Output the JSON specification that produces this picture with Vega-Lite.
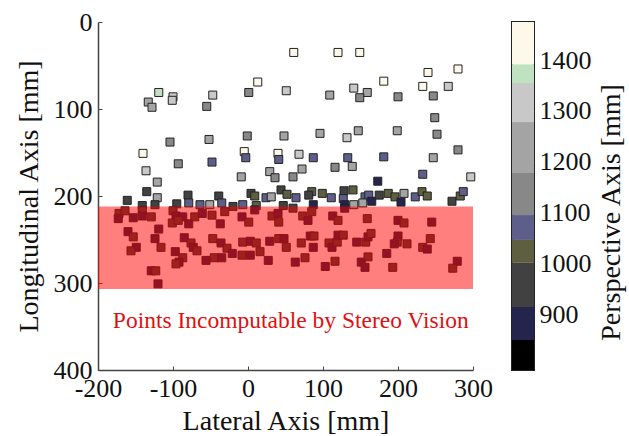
{
  "$schema": "https://vega.github.io/schema/vega-lite/v6.json",
  "autosize": "none",
  "padding": {"left": 98, "top": 22, "right": 531, "bottom": 414},
  "background": "white",
  "datasets": {
    "points": [
      {"x": -119, "y": 81, "z": 1370}, {"x": -100, "y": 86, "z": 1320}, {"x": -101, "y": 90, "z": 1320},
      {"x": -133, "y": 92, "z": 1230}, {"x": -128, "y": 98, "z": 1230}, {"x": -47, "y": 84, "z": 1320},
      {"x": -55, "y": 97, "z": 1140}, {"x": 1, "y": 81, "z": 1140}, {"x": 13, "y": 69, "z": 1440},
      {"x": 51, "y": 79, "z": 1320}, {"x": -104, "y": 138, "z": 1140}, {"x": -52, "y": 135, "z": 1230},
      {"x": -1, "y": 131, "z": 1140}, {"x": 48, "y": 131, "z": 1230}, {"x": -140, "y": 151, "z": 1440},
      {"x": -5, "y": 149, "z": 1440}, {"x": -3, "y": 156, "z": 1070}, {"x": 40, "y": 151, "z": 1440},
      {"x": 41, "y": 158, "z": 1070}, {"x": -93, "y": 163, "z": 1140}, {"x": -48, "y": 161, "z": 1070},
      {"x": -136, "y": 171, "z": 1320}, {"x": -9, "y": 178, "z": 1230}, {"x": 29, "y": 172, "z": 1230},
      {"x": 36, "y": 179, "z": 1140}, {"x": -121, "y": 184, "z": 1230}, {"x": -135, "y": 195, "z": 960},
      {"x": 44, "y": 193, "z": 960}, {"x": 52, "y": 198, "z": 1020}, {"x": -161, "y": 205, "z": 960},
      {"x": -121, "y": 202, "z": 1230}, {"x": -80, "y": 199, "z": 960}, {"x": -39, "y": 200, "z": 960},
      {"x": 4, "y": 197, "z": 960}, {"x": 9, "y": 200, "z": 1020}, {"x": 24, "y": 202, "z": 1070},
      {"x": 31, "y": 201, "z": 1230}, {"x": -79, "y": 208, "z": 1070}, {"x": -95, "y": 209, "z": 960},
      {"x": -141, "y": 211, "z": 960}, {"x": -124, "y": 210, "z": 960}, {"x": -64, "y": 210, "z": 1070},
      {"x": -51, "y": 210, "z": 1230}, {"x": -35, "y": 208, "z": 1070}, {"x": -20, "y": 212, "z": 960},
      {"x": -7, "y": 210, "z": 1070}, {"x": 11, "y": 211, "z": 1020}, {"x": 47, "y": 211, "z": 960},
      {"x": 61, "y": 35, "z": 1440}, {"x": 120, "y": 35, "z": 1440}, {"x": 149, "y": 35, "z": 1440},
      {"x": 240, "y": 58, "z": 1440}, {"x": 280, "y": 54, "z": 1440}, {"x": 181, "y": 68, "z": 1440},
      {"x": 233, "y": 74, "z": 1440}, {"x": 267, "y": 74, "z": 1320}, {"x": 109, "y": 84, "z": 1230},
      {"x": 141, "y": 76, "z": 1320}, {"x": 159, "y": 81, "z": 1230}, {"x": 149, "y": 87, "z": 1140},
      {"x": 200, "y": 86, "z": 1140}, {"x": 247, "y": 85, "z": 1140}, {"x": 249, "y": 110, "z": 1140},
      {"x": 252, "y": 129, "z": 1140}, {"x": 96, "y": 128, "z": 1230}, {"x": 132, "y": 133, "z": 1320},
      {"x": 147, "y": 125, "z": 1230}, {"x": 199, "y": 125, "z": 1230}, {"x": 68, "y": 152, "z": 1320},
      {"x": 87, "y": 156, "z": 1070}, {"x": 133, "y": 156, "z": 1070}, {"x": 181, "y": 155, "z": 1070},
      {"x": 280, "y": 147, "z": 1140}, {"x": 247, "y": 156, "z": 1230}, {"x": 72, "y": 169, "z": 1230},
      {"x": 60, "y": 178, "z": 1140}, {"x": 116, "y": 167, "z": 1140}, {"x": 139, "y": 166, "z": 1230},
      {"x": 233, "y": 175, "z": 1070}, {"x": 297, "y": 178, "z": 1320}, {"x": 173, "y": 183, "z": 880},
      {"x": 64, "y": 202, "z": 1070}, {"x": 85, "y": 195, "z": 1020}, {"x": 81, "y": 199, "z": 960},
      {"x": 99, "y": 197, "z": 1020}, {"x": 111, "y": 202, "z": 1070}, {"x": 128, "y": 194, "z": 960},
      {"x": 140, "y": 193, "z": 1020}, {"x": 127, "y": 203, "z": 1070}, {"x": 129, "y": 210, "z": 880},
      {"x": 141, "y": 210, "z": 1230}, {"x": 156, "y": 201, "z": 1070}, {"x": 161, "y": 199, "z": 1070},
      {"x": 165, "y": 206, "z": 880}, {"x": 175, "y": 199, "z": 960}, {"x": 153, "y": 208, "z": 1230},
      {"x": 187, "y": 197, "z": 1020}, {"x": 196, "y": 201, "z": 1020}, {"x": 204, "y": 207, "z": 880},
      {"x": 208, "y": 197, "z": 1230}, {"x": 223, "y": 201, "z": 1070}, {"x": 232, "y": 195, "z": 1020},
      {"x": 239, "y": 200, "z": 1020}, {"x": 272, "y": 206, "z": 960}, {"x": 283, "y": 200, "z": 1020},
      {"x": 287, "y": 195, "z": 1070}, {"x": 60, "y": 214, "z": 960}, {"x": 87, "y": 210, "z": 880},
      {"x": -172, "y": 220, "z": 960}, {"x": -173, "y": 226, "z": 880}, {"x": -164, "y": 217, "z": 960},
      {"x": -153, "y": 225, "z": 880}, {"x": -141, "y": 217, "z": 960}, {"x": -141, "y": 223, "z": 880},
      {"x": -129, "y": 224, "z": 960}, {"x": -119, "y": 238, "z": 880}, {"x": -100, "y": 217, "z": 960},
      {"x": -96, "y": 223, "z": 880}, {"x": -101, "y": 231, "z": 960}, {"x": -87, "y": 224, "z": 880},
      {"x": -93, "y": 228, "z": 960}, {"x": -79, "y": 232, "z": 880}, {"x": -71, "y": 224, "z": 960},
      {"x": -61, "y": 220, "z": 880}, {"x": -48, "y": 222, "z": 960}, {"x": -37, "y": 232, "z": 880},
      {"x": -31, "y": 218, "z": 960}, {"x": -8, "y": 224, "z": 880}, {"x": 1, "y": 230, "z": 960},
      {"x": 9, "y": 216, "z": 880}, {"x": 32, "y": 223, "z": 960}, {"x": 40, "y": 220, "z": 880},
      {"x": 41, "y": 230, "z": 960}, {"x": -160, "y": 241, "z": 880}, {"x": -153, "y": 247, "z": 960},
      {"x": -124, "y": 249, "z": 880}, {"x": -116, "y": 259, "z": 960}, {"x": -149, "y": 259, "z": 880},
      {"x": -156, "y": 263, "z": 960}, {"x": -85, "y": 248, "z": 880}, {"x": -76, "y": 254, "z": 960},
      {"x": -73, "y": 259, "z": 880}, {"x": -68, "y": 263, "z": 960}, {"x": -97, "y": 264, "z": 880},
      {"x": -87, "y": 271, "z": 960}, {"x": -92, "y": 276, "z": 880}, {"x": -96, "y": 278, "z": 960},
      {"x": -56, "y": 274, "z": 880}, {"x": -45, "y": 271, "z": 960}, {"x": -35, "y": 271, "z": 880},
      {"x": -47, "y": 249, "z": 960}, {"x": -36, "y": 254, "z": 880}, {"x": -28, "y": 260, "z": 960},
      {"x": -21, "y": 266, "z": 880}, {"x": -8, "y": 268, "z": 960}, {"x": 3, "y": 268, "z": 880},
      {"x": 16, "y": 264, "z": 960}, {"x": 27, "y": 274, "z": 880}, {"x": -7, "y": 253, "z": 960},
      {"x": 3, "y": 252, "z": 880}, {"x": 11, "y": 254, "z": 960}, {"x": 29, "y": 252, "z": 880},
      {"x": 41, "y": 249, "z": 960}, {"x": 48, "y": 249, "z": 880}, {"x": 51, "y": 259, "z": 960},
      {"x": -129, "y": 286, "z": 880}, {"x": -123, "y": 286, "z": 960}, {"x": -120, "y": 301, "z": 880},
      {"x": 73, "y": 223, "z": 960}, {"x": 80, "y": 228, "z": 880}, {"x": 85, "y": 218, "z": 960},
      {"x": 113, "y": 223, "z": 880}, {"x": 120, "y": 228, "z": 960}, {"x": 129, "y": 214, "z": 880},
      {"x": 159, "y": 226, "z": 960}, {"x": 200, "y": 228, "z": 880}, {"x": 208, "y": 231, "z": 960},
      {"x": 245, "y": 230, "z": 880}, {"x": 71, "y": 254, "z": 960}, {"x": 83, "y": 246, "z": 880},
      {"x": 88, "y": 246, "z": 960}, {"x": 87, "y": 259, "z": 880}, {"x": 108, "y": 254, "z": 960},
      {"x": 112, "y": 259, "z": 880}, {"x": 119, "y": 253, "z": 960}, {"x": 120, "y": 245, "z": 880},
      {"x": 127, "y": 245, "z": 960}, {"x": 145, "y": 253, "z": 880}, {"x": 157, "y": 253, "z": 960},
      {"x": 160, "y": 247, "z": 880}, {"x": 164, "y": 243, "z": 960}, {"x": 200, "y": 246, "z": 880},
      {"x": 199, "y": 253, "z": 960}, {"x": 195, "y": 255, "z": 880}, {"x": 212, "y": 255, "z": 960},
      {"x": 185, "y": 266, "z": 880}, {"x": 233, "y": 259, "z": 960}, {"x": 239, "y": 261, "z": 880},
      {"x": 243, "y": 249, "z": 960}, {"x": 63, "y": 276, "z": 880}, {"x": 76, "y": 271, "z": 960},
      {"x": 103, "y": 281, "z": 880}, {"x": 116, "y": 275, "z": 960}, {"x": 151, "y": 276, "z": 880},
      {"x": 160, "y": 270, "z": 960}, {"x": 156, "y": 282, "z": 880}, {"x": 193, "y": 282, "z": 960},
      {"x": 279, "y": 275, "z": 880}, {"x": 273, "y": 283, "z": 960}
    ],
    "zone": [{"x1": -200, "x2": 300, "y1": 212, "y2": 307}],
    "note": [{"label": "Points Incomputable by Stereo Vision", "x": 57, "y": 352}],
    "bands": [
      {"lo": 790, "hi": 849, "z": 820}, {"lo": 849, "hi": 914, "z": 880}, {"lo": 914, "hi": 1001, "z": 960},
      {"lo": 1001, "hi": 1046, "z": 1020}, {"lo": 1046, "hi": 1095, "z": 1070}, {"lo": 1095, "hi": 1178, "z": 1140},
      {"lo": 1178, "hi": 1278, "z": 1230}, {"lo": 1278, "hi": 1355, "z": 1320}, {"lo": 1355, "hi": 1392, "z": 1370},
      {"lo": 1392, "hi": 1475, "z": 1440}
    ]
  },
  "hconcat": [
    {
      "width": 375,
      "height": 348,
      "layer": [
        {
          "data": {"name": "points"},
          "mark": {"type": "square", "size": 64, "filled": true, "opacity": 1, "stroke": "#222", "strokeWidth": 1},
          "encoding": {
            "x": {"field": "x", "type": "quantitative", "scale": {"domain": [-200, 300], "nice": false, "zero": false},
              "axis": {"title": "Lateral Axis [mm]", "values": [-200, -100, 0, 100, 200, 300], "labelExpr": "'' + datum.value",
                "labelFont": "Liberation Serif", "titleFont": "Liberation Serif", "labelFontSize": 26, "titleFontSize": 28,
                "tickSize": -4, "labelPadding": 9, "titlePadding": 6, "domainColor": "#444", "domainWidth": 1.5, "tickColor": "#444", "labelFlush": false}},
            "y": {"field": "y", "type": "quantitative", "scale": {"domain": [0, 400], "reverse": true, "nice": false, "zero": false},
              "axis": {"title": "Longitudinal Axis [mm]", "values": [0, 100, 200, 300, 400], "labelExpr": "'' + datum.value",
                "labelFont": "Liberation Serif", "titleFont": "Liberation Serif", "labelFontSize": 26, "titleFontSize": 28,
                "tickSize": -4, "labelPadding": 10, "titlePadding": 10, "domainColor": "#444", "domainWidth": 1.5, "tickColor": "#444", "labelFlush": false}},
            "color": {"field": "z", "type": "quantitative",
              "scale": {"type": "threshold", "domain": [849, 914, 1001, 1046, 1095, 1178, 1278, 1355, 1392],
                "range": ["#000000", "#24244c", "#414141", "#5e5e40", "#5e5e8a", "#888888", "#a4a4a4", "#c8c8c8", "#c0e2c0", "#fdf9ea"]},
              "legend": null}
          }
        },
        {
          "data": {"name": "zone"},
          "mark": {"type": "rect", "fill": "#ff0000", "opacity": 0.5},
          "encoding": {
            "x": {"field": "x1", "type": "quantitative", "scale": {"domain": [-200, 300], "nice": false, "zero": false}},
            "x2": {"field": "x2"},
            "y": {"field": "y1", "type": "quantitative", "scale": {"domain": [0, 400], "reverse": true, "nice": false, "zero": false}},
            "y2": {"field": "y2"}
          }
        },
        {
          "data": {"name": "note"},
          "mark": {"type": "text", "font": "Liberation Serif", "fontSize": 23.5, "color": "#e01010", "align": "center", "baseline": "alphabetic"},
          "encoding": {
            "x": {"field": "x", "type": "quantitative", "scale": {"domain": [-200, 300], "nice": false, "zero": false}},
            "y": {"field": "y", "type": "quantitative", "scale": {"domain": [0, 400], "reverse": true, "nice": false, "zero": false}},
            "text": {"field": "label"}
          }
        }
      ]
    },
    {
      "width": 22,
      "height": 348,
      "view": {"stroke": "#222", "strokeWidth": 2},
      "data": {"name": "bands"},
      "mark": {"type": "rect"},
      "encoding": {
        "y": {"field": "lo", "type": "quantitative", "scale": {"domain": [790, 1475], "nice": false, "zero": false},
          "axis": {"orient": "right", "values": [900, 1000, 1100, 1200, 1300, 1400], "labelExpr": "'' + datum.value", "title": "Perspective Axis [mm]",
            "labelFont": "Liberation Serif", "titleFont": "Liberation Serif",
            "titleAngle": 270, "titleBaseline": "top", "titleY": 190, "titlePadding": 6, "labelFontSize": 26, "titleFontSize": 28,
            "tickSize": -4, "labelPadding": 9, "domain": false, "tickColor": "#444"}},
        "y2": {"field": "hi"},
        "color": {"field": "z", "type": "quantitative",
          "scale": {"type": "threshold", "domain": [849, 914, 1001, 1046, 1095, 1178, 1278, 1355, 1392],
            "range": ["#000000", "#24244c", "#414141", "#5e5e40", "#5e5e8a", "#888888", "#a4a4a4", "#c8c8c8", "#c0e2c0", "#fdf9ea"]},
          "legend": null}
      }
    }
  ],
  "spacing": 39,
  "bounds": "flush",
  "config": {
    "view": {"stroke": null},
    "font": "Liberation Serif",
    "axis": {"labelFont": "Liberation Serif", "titleFont": "Liberation Serif", "labelColor": "#111", "titleColor": "#111",
      "titleFontWeight": "normal", "grid": false, "labelOverlap": false}
  }
}
